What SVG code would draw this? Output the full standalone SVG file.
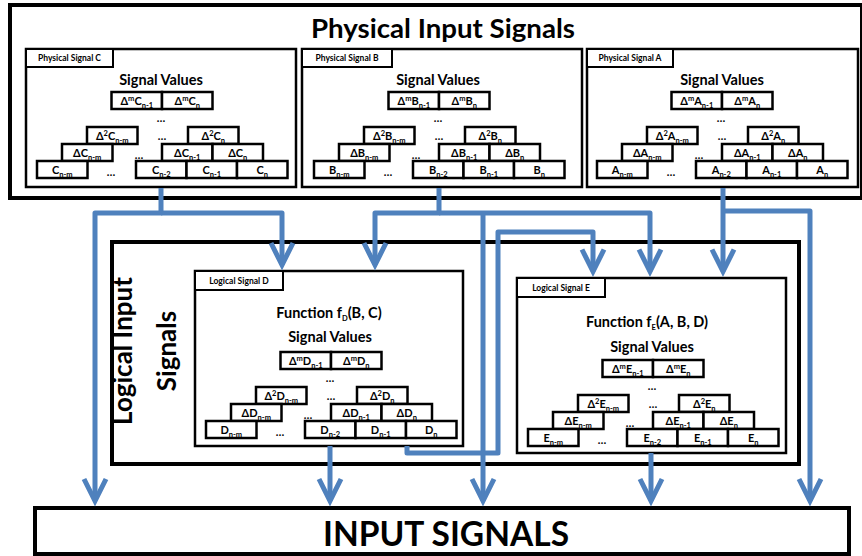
<svg xmlns="http://www.w3.org/2000/svg" width="862" height="556" viewBox="0 0 862 556">
<style>
.t{font-family:Lato,"Open Sans","DejaVu Sans",sans-serif;font-weight:700;fill:#000}
.v{font-size:11px;text-anchor:middle}
.s{font-size:7.5px}
.el{font-size:11px;text-anchor:middle}
.tl{font-size:8.5px;text-anchor:middle}
.h{font-size:14.5px;text-anchor:middle}
.bx{fill:#fff;stroke:#000;stroke-width:2.5}
.pn{fill:#fff;stroke:#000;stroke-width:2.5}
.tab{fill:#fff;stroke:#000;stroke-width:2}
.big{fill:#fff;stroke:#000;stroke-width:4}
.cn{fill:none;stroke:#4F81BD;stroke-width:5;stroke-linejoin:round}
</style>
<defs>
<marker id="ah" markerUnits="userSpaceOnUse" viewBox="-30 -16 36 32" markerWidth="36" markerHeight="32" refX="0" refY="0" orient="auto" overflow="visible">
<path d="M-22,-11 L0,0 L-22,11" fill="none" stroke="#4F81BD" stroke-width="5" stroke-linejoin="miter"/>
</marker>
<g id="grid">
<rect class="bx" x="85.5" y="0" width="50.5" height="17"/>
<rect class="bx" x="136" y="0" width="50.5" height="17"/>
<rect class="bx" x="61" y="35" width="50.5" height="17"/>
<rect class="bx" x="162" y="35" width="50.5" height="17"/>
<rect class="bx" x="36" y="52" width="50.5" height="17"/>
<rect class="bx" x="136" y="52" width="50.5" height="17"/>
<rect class="bx" x="186.5" y="52" width="50.5" height="17"/>
<rect class="bx" x="11" y="69" width="50.5" height="17"/>
<rect class="bx" x="110" y="69" width="50.5" height="17"/>
<rect class="bx" x="160.5" y="69" width="50.5" height="17"/>
<rect class="bx" x="211" y="69" width="50.5" height="17"/>
<text class="t el" x="135" y="30">…</text>
<text class="t el" x="136" y="48">…</text>
<text class="t el" x="113" y="67">…</text>
<text class="t el" x="85" y="84">…</text>
</g>
</defs>
<rect width="862" height="556" fill="#fff"/>

<g id="physical-input-signals">
<rect class="big" x="10" y="5" width="852" height="193"/>
<text class="t" x="443" y="38" font-size="27" text-anchor="middle" textLength="264" lengthAdjust="spacingAndGlyphs">Physical Input Signals</text>
</g>

<g id="physical-signal-c">
<rect class="pn" x="26" y="49" width="270" height="138"/>
<rect class="tab" x="26" y="49" width="87" height="18"/>
<text class="t tl" x="69.5" y="61">Physical Signal C</text>
<text class="t h" x="161" y="85">Signal Values</text>
<g transform="translate(26,92)">
<use href="#grid"/>
<g class="t v">
<text x="110.75" y="12.5">Δ<tspan class="s" dy="-4">m</tspan><tspan dy="4">C</tspan><tspan class="s" dy="3">n-1</tspan></text>
<text x="161.25" y="12.5">Δ<tspan class="s" dy="-4">m</tspan><tspan dy="4">C</tspan><tspan class="s" dy="3">n</tspan></text>
<text x="86.25" y="47.5">Δ<tspan class="s" dy="-4">2</tspan><tspan dy="4">C</tspan><tspan class="s" dy="3">n-m</tspan></text>
<text x="187.25" y="47.5">Δ<tspan class="s" dy="-4">2</tspan><tspan dy="4">C</tspan><tspan class="s" dy="3">n</tspan></text>
<text x="61.25" y="64.5">ΔC<tspan class="s" dy="3">n-m</tspan></text>
<text x="161.25" y="64.5">ΔC<tspan class="s" dy="3">n-1</tspan></text>
<text x="211.75" y="64.5">ΔC<tspan class="s" dy="3">n</tspan></text>
<text x="36.25" y="81.5">C<tspan class="s" dy="3">n-m</tspan></text>
<text x="135.25" y="81.5">C<tspan class="s" dy="3">n-2</tspan></text>
<text x="185.75" y="81.5">C<tspan class="s" dy="3">n-1</tspan></text>
<text x="236.25" y="81.5">C<tspan class="s" dy="3">n</tspan></text>
</g>
</g>
</g>

<g id="physical-signal-b">
<rect class="pn" x="302" y="49" width="280" height="138"/>
<rect class="tab" x="302" y="49" width="90" height="18"/>
<text class="t tl" x="347" y="61">Physical Signal B</text>
<text class="t h" x="438" y="85">Signal Values</text>
<g transform="translate(303,92)">
<use href="#grid"/>
<g class="t v">
<text x="110.75" y="12.5">Δ<tspan class="s" dy="-4">m</tspan><tspan dy="4">B</tspan><tspan class="s" dy="3">n-1</tspan></text>
<text x="161.25" y="12.5">Δ<tspan class="s" dy="-4">m</tspan><tspan dy="4">B</tspan><tspan class="s" dy="3">n</tspan></text>
<text x="86.25" y="47.5">Δ<tspan class="s" dy="-4">2</tspan><tspan dy="4">B</tspan><tspan class="s" dy="3">n-m</tspan></text>
<text x="187.25" y="47.5">Δ<tspan class="s" dy="-4">2</tspan><tspan dy="4">B</tspan><tspan class="s" dy="3">n</tspan></text>
<text x="61.25" y="64.5">ΔB<tspan class="s" dy="3">n-m</tspan></text>
<text x="161.25" y="64.5">ΔB<tspan class="s" dy="3">n-1</tspan></text>
<text x="211.75" y="64.5">ΔB<tspan class="s" dy="3">n</tspan></text>
<text x="36.25" y="81.5">B<tspan class="s" dy="3">n-m</tspan></text>
<text x="135.25" y="81.5">B<tspan class="s" dy="3">n-2</tspan></text>
<text x="185.75" y="81.5">B<tspan class="s" dy="3">n-1</tspan></text>
<text x="236.25" y="81.5">B<tspan class="s" dy="3">n</tspan></text>
</g>
</g>
</g>

<g id="physical-signal-a">
<rect class="pn" x="587" y="49" width="271" height="138"/>
<rect class="tab" x="587" y="49" width="86" height="18"/>
<text class="t tl" x="630" y="61">Physical Signal A</text>
<text class="t h" x="722" y="85">Signal Values</text>
<g transform="translate(586,92)">
<use href="#grid"/>
<g class="t v">
<text x="110.75" y="12.5">Δ<tspan class="s" dy="-4">m</tspan><tspan dy="4">A</tspan><tspan class="s" dy="3">n-1</tspan></text>
<text x="161.25" y="12.5">Δ<tspan class="s" dy="-4">m</tspan><tspan dy="4">A</tspan><tspan class="s" dy="3">n</tspan></text>
<text x="86.25" y="47.5">Δ<tspan class="s" dy="-4">2</tspan><tspan dy="4">A</tspan><tspan class="s" dy="3">n-m</tspan></text>
<text x="187.25" y="47.5">Δ<tspan class="s" dy="-4">2</tspan><tspan dy="4">A</tspan><tspan class="s" dy="3">n</tspan></text>
<text x="61.25" y="64.5">ΔA<tspan class="s" dy="3">n-m</tspan></text>
<text x="161.25" y="64.5">ΔA<tspan class="s" dy="3">n-1</tspan></text>
<text x="211.75" y="64.5">ΔA<tspan class="s" dy="3">n</tspan></text>
<text x="36.25" y="81.5">A<tspan class="s" dy="3">n-m</tspan></text>
<text x="135.25" y="81.5">A<tspan class="s" dy="3">n-2</tspan></text>
<text x="185.75" y="81.5">A<tspan class="s" dy="3">n-1</tspan></text>
<text x="236.25" y="81.5">A<tspan class="s" dy="3">n</tspan></text>
</g>
</g>
</g>

<g id="logical-input-signals">
<rect class="big" x="112" y="242" width="687" height="222"/>
<text class="t" transform="translate(132,351) rotate(-90)" font-size="26" text-anchor="middle">Logical Input</text>
<text class="t" transform="translate(176,351) rotate(-90)" font-size="26" text-anchor="middle">Signals</text>
</g>

<g id="logical-signal-d">
<rect class="pn" x="195" y="271" width="268" height="175"/>
<rect class="tab" x="195" y="271" width="88" height="19"/>
<text class="t tl" x="239" y="284">Logical Signal D</text>
<text class="t h" x="329" y="318">Function f<tspan class="s" font-size="9" dy="3">D</tspan><tspan dy="-3">(B, C)</tspan></text>
<text class="t h" x="330" y="342">Signal Values</text>
<g transform="translate(195,352)">
<use href="#grid"/>
<g class="t v">
<text x="110.75" y="12.5">Δ<tspan class="s" dy="-4">m</tspan><tspan dy="4">D</tspan><tspan class="s" dy="3">n-1</tspan></text>
<text x="161.25" y="12.5">Δ<tspan class="s" dy="-4">m</tspan><tspan dy="4">D</tspan><tspan class="s" dy="3">n</tspan></text>
<text x="86.25" y="47.5">Δ<tspan class="s" dy="-4">2</tspan><tspan dy="4">D</tspan><tspan class="s" dy="3">n-m</tspan></text>
<text x="187.25" y="47.5">Δ<tspan class="s" dy="-4">2</tspan><tspan dy="4">D</tspan><tspan class="s" dy="3">n</tspan></text>
<text x="61.25" y="64.5">ΔD<tspan class="s" dy="3">n-m</tspan></text>
<text x="161.25" y="64.5">ΔD<tspan class="s" dy="3">n-1</tspan></text>
<text x="211.75" y="64.5">ΔD<tspan class="s" dy="3">n</tspan></text>
<text x="36.25" y="81.5">D<tspan class="s" dy="3">n-m</tspan></text>
<text x="135.25" y="81.5">D<tspan class="s" dy="3">n-2</tspan></text>
<text x="185.75" y="81.5">D<tspan class="s" dy="3">n-1</tspan></text>
<text x="236.25" y="81.5">D<tspan class="s" dy="3">n</tspan></text>
</g>
</g>
</g>

<g id="logical-signal-e">
<rect class="pn" x="517" y="278" width="269" height="175"/>
<rect class="tab" x="517" y="278" width="88" height="19"/>
<text class="t tl" x="561" y="291">Logical Signal E</text>
<text class="t h" x="647" y="327">Function f<tspan class="s" font-size="9" dy="3">E</tspan><tspan dy="-3">(A, B, D)</tspan></text>
<text class="t h" x="652" y="352">Signal Values</text>
<g transform="translate(517,360)">
<use href="#grid"/>
<g class="t v">
<text x="110.75" y="12.5">Δ<tspan class="s" dy="-4">m</tspan><tspan dy="4">E</tspan><tspan class="s" dy="3">n-1</tspan></text>
<text x="161.25" y="12.5">Δ<tspan class="s" dy="-4">m</tspan><tspan dy="4">E</tspan><tspan class="s" dy="3">n</tspan></text>
<text x="86.25" y="47.5">Δ<tspan class="s" dy="-4">2</tspan><tspan dy="4">E</tspan><tspan class="s" dy="3">n-m</tspan></text>
<text x="187.25" y="47.5">Δ<tspan class="s" dy="-4">2</tspan><tspan dy="4">E</tspan><tspan class="s" dy="3">n</tspan></text>
<text x="61.25" y="64.5">ΔE<tspan class="s" dy="3">n-m</tspan></text>
<text x="161.25" y="64.5">ΔE<tspan class="s" dy="3">n-1</tspan></text>
<text x="211.75" y="64.5">ΔE<tspan class="s" dy="3">n</tspan></text>
<text x="36.25" y="81.5">E<tspan class="s" dy="3">n-m</tspan></text>
<text x="135.25" y="81.5">E<tspan class="s" dy="3">n-2</tspan></text>
<text x="185.75" y="81.5">E<tspan class="s" dy="3">n-1</tspan></text>
<text x="236.25" y="81.5">E<tspan class="s" dy="3">n</tspan></text>
</g>
</g>
</g>

<g id="input-signals">
<rect class="big" x="35" y="508" width="814" height="46"/>
<text class="t" x="446" y="546" font-size="34" text-anchor="middle" textLength="246" lengthAdjust="spacingAndGlyphs">INPUT SIGNALS</text>
</g>

<g id="connectors" class="cn">
<path d="M161,188 V213 H95 V501" marker-end="url(#ah)"/>
<path d="M161,213 H282 V265" marker-end="url(#ah)"/>
<path d="M439,188 V213 H375 V265" marker-end="url(#ah)"/>
<path d="M439,213 H650 V271.5" marker-end="url(#ah)"/>
<path d="M483,213 V501" marker-end="url(#ah)"/>
<path d="M723,188 V271.5" marker-end="url(#ah)"/>
<path d="M723,211 H810 V501" marker-end="url(#ah)"/>
<path d="M407,446 V453 H498 V232 H593 V271.5" marker-end="url(#ah)"/>
<path d="M330,446 V501" marker-end="url(#ah)"/>
<path d="M651,453 V501" marker-end="url(#ah)"/>
</g>
</svg>
